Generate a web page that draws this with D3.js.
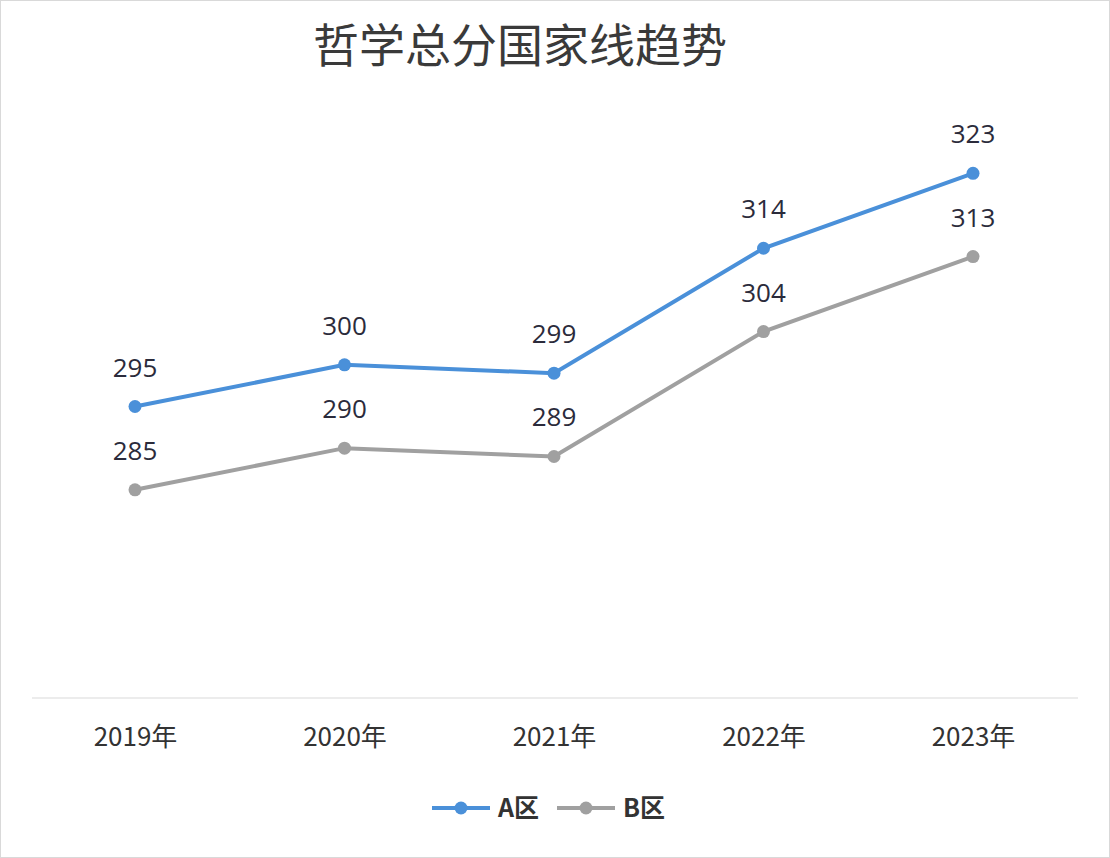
<!DOCTYPE html>
<html>
<head>
<meta charset="utf-8">
<script src="https://cdn.jsdelivr.net/npm/d3@7"></script>
<style>
  body { margin: 0; background: #fff; }
  svg { font-family: "Noto Sans CJK SC", "Noto Sans", sans-serif; }
</style>
</head>
<body>
<svg id="chart" width="1110" height="858"></svg>
<script>
const years = ["2019年", "2020年", "2021年", "2022年", "2023年"];
const seriesA = [295, 300, 299, 314, 323];
const seriesB = [285, 290, 289, 304, 313];
const seriesNames = ["A区", "B区"];
const colors = ["#4a90d9", "#a0a0a0"];

const width = 1110, height = 858;
const svg = d3.select("#chart");

svg.append("rect")
    .attr("x", 0.5).attr("y", 0.5)
    .attr("width", width - 1).attr("height", height - 1)
    .attr("fill", "#fff").attr("stroke", "#d9d9d9");

svg.append("text")
    .attr("x", 520).attr("y", 62)
    .attr("text-anchor", "middle")
    .attr("font-size", 46)
    .attr("fill", "#3a3a3a")
    .text("哲学总分国家线趋势");

const x = d3.scalePoint()
    .domain(years)
    .range([135, 973]);

const y = d3.scaleLinear()
    .domain([260, 330])
    .range([698, 115]);

// baseline
svg.append("line")
    .attr("x1", 32).attr("x2", 1078)
    .attr("y1", y(260)).attr("y2", y(260))
    .attr("stroke", "#d9d9d9");

svg.append("g")
    .attr("transform", `translate(0, ${y(260)})`)
    .call(d3.axisBottom(x).tickSize(0).tickPadding(30))
    .call(g => g.select(".domain").remove())
    .selectAll("text")
    .attr("font-size", 26)
    .attr("fill", "#333")
    .attr("font-family", "\"Noto Sans CJK SC\", sans-serif");

const line = d3.line()
    .x((d, i) => x(years[i]))
    .y(d => y(d));

[seriesB, seriesA].forEach((data, k) => {
    const idx = k === 0 ? 1 : 0;
    const color = colors[idx];
    svg.append("path")
        .datum(data)
        .attr("fill", "none")
        .attr("stroke", color)
        .attr("stroke-width", 4)
        .attr("d", line);

    svg.selectAll(".pt" + idx)
        .data(data)
        .enter().append("circle")
        .attr("cx", (d, i) => x(years[i]))
        .attr("cy", d => y(d))
        .attr("r", 6.5)
        .attr("fill", color);

    svg.selectAll(".lbl" + idx)
        .data(data)
        .enter().append("text")
        .attr("x", (d, i) => x(years[i]))
        .attr("y", d => y(d) - 30)
        .attr("text-anchor", "middle")
        .attr("font-size", 26)
        .attr("fill", "#2b2b3b")
        .attr("font-family", "\"Open Sans\", sans-serif")
        .text(d => d);
});

// legend
const legend = svg.append("g").attr("transform", "translate(432, 808)");
seriesNames.forEach((name, i) => {
    const g = legend.append("g").attr("transform", `translate(${i * 125}, 0)`);
    g.append("line")
        .attr("x1", 0).attr("x2", 58)
        .attr("stroke", colors[i]).attr("stroke-width", 4);
    g.append("circle").attr("cx", 29).attr("r", 6.5).attr("fill", colors[i]);
    g.append("text")
        .attr("x", 66).attr("y", 9)
        .attr("font-size", 25)
        .attr("font-weight", "bold")
        .attr("fill", "#333")
        .text(name);
});
</script>
</body>
</html>
